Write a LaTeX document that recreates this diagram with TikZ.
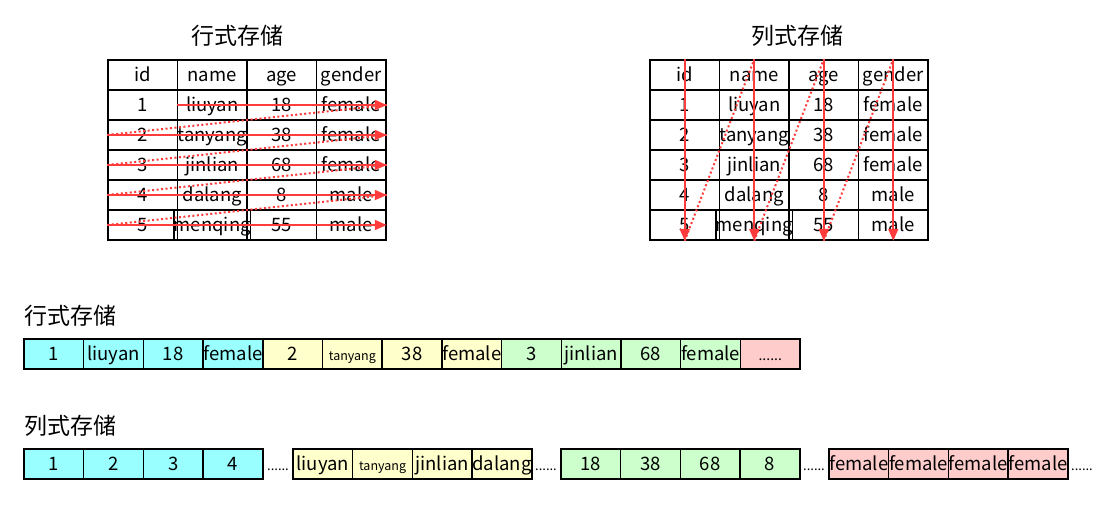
\documentclass[tikz,border=0pt]{standalone}
\usepackage{fontspec}
\setmainfont{Noto Sans CJK SC}
\usetikzlibrary{arrows.meta}
\definecolor{ccyan}{HTML}{99FFFF}
\definecolor{cyel}{HTML}{FFFFCC}
\definecolor{cgreen}{HTML}{CCFFCC}
\definecolor{cpink}{HTML}{FFCCCC}
\definecolor{arr}{HTML}{FF3B3B}
\begin{document}
\begin{tikzpicture}[x=1pt,y=-1pt,
  tcell/.style={draw,line width=1.5pt,minimum width=69.5pt,minimum height=30pt,inner sep=0pt,text height=16pt,text depth=3pt,font=\fontsize{18.5}{18.5}\selectfont},
  scell/.style={draw,line width=1.5pt,minimum width=59.7pt,minimum height=30pt,inner sep=0pt,text height=16pt,text depth=3pt,font=\fontsize{18.5}{18.5}\selectfont},
  title/.style={font=\fontsize{23}{23}\selectfont,inner sep=0pt},
  dots/.style={font=\fontsize{13}{13}\selectfont,inner sep=0pt},
  rarrow/.style={draw=arr,line width=2pt,-{Triangle[length=12pt,width=10pt]}},
  rdot/.style={draw=arr,line width=2pt,dash pattern=on 2pt off 2.5pt},
]
\useasboundingbox (0,0) rectangle (1117,515);

% titles
\node[title] (t1) at (237,36) {行式存储};
\node[title] (t2) at (797,36) {列式存储};

% tables
\foreach \a/\b/\c/\d [count=\r from 0] in {id/name/age/gender,1/liuyan/18/female,2/tanyang/38/female,3/jinlian/68/female,4/dalang/8/male,5/menqing/55/male}{
  \node[tcell] (L-\r-1) at ({108+34.75},{75+30*\r}) {\a};
  \node[tcell] (L-\r-2) at ({108+69.5+34.75},{75+30*\r}) {\b};
  \node[tcell] (L-\r-3) at ({108+139+34.75},{75+30*\r}) {\c};
  \node[tcell] (L-\r-4) at ({108+208.5+34.75},{75+30*\r}) {\d};
  \node[tcell] (R-\r-1) at ({650+34.75},{75+30*\r}) {\a};
  \node[tcell] (R-\r-2) at ({650+69.5+34.75},{75+30*\r}) {\b};
  \node[tcell] (R-\r-3) at ({650+139+34.75},{75+30*\r}) {\c};
  \node[tcell] (R-\r-4) at ({650+208.5+34.75},{75+30*\r}) {\d};
}

% row-wise arrows
\draw[rarrow] (L-1-2.west) -- (L-1-4.east);
\foreach \r in {2,...,5}{
  \draw[rarrow] (L-\r-1.west) -- (L-\r-4.east);
}
\foreach \r [evaluate=\r as \n using int(\r+1)] in {1,...,4}{
  \draw[rdot] (L-\r-4.east) -- (L-\n-1.west);
}

% column-wise arrows
\foreach \c in {1,...,4}{
  \draw[rarrow] (R-0-\c.north) -- (R-5-\c.south);
}
\foreach \c [evaluate=\c as \n using int(\c+1)] in {1,...,3}{
  \draw[rdot] (R-5-\c.south) -- (R-0-\n.north);
}

% row storage
\node[title,anchor=west] (l1) at (24,316) {行式存储};
\foreach \t/\col [count=\i from 0] in {1/ccyan,liuyan/ccyan,18/ccyan,female/ccyan,2/cyel,{\fontsize{12.5}{12.5}\selectfont tanyang}/cyel,38/cyel,female/cyel,3/cgreen,jinlian/cgreen,68/cgreen,female/cgreen,{\fontsize{14}{14}\selectfont ......}/cpink}{
  \node[scell,fill=\col] (S-\i) at ({24+29.85+59.7*\i},354) {\t};
}

% column storage
\node[title,anchor=west] (l2) at (24,426) {列式存储};
\foreach \t [count=\i from 0] in {1,2,3,4}{
  \node[scell,fill=ccyan] (A-\i) at ({24+29.85+59.7*\i},464) {\t};
}
\foreach \t [count=\i from 0] in {liuyan,{\fontsize{12.5}{12.5}\selectfont tanyang},jinlian,dalang}{
  \node[scell,fill=cyel] (B-\i) at ({293+29.85+59.7*\i},464) {\t};
}
\foreach \t [count=\i from 0] in {18,38,68,8}{
  \node[scell,fill=cgreen] (C-\i) at ({561+29.85+59.7*\i},464) {\t};
}
\foreach \t [count=\i from 0] in {female,female,female,female}{
  \node[scell,fill=cpink] (D-\i) at ({829+29.85+59.7*\i},464) {\t};
}
\node[dots,anchor=base] (d1) at (278,470) {......};
\node[dots,anchor=base] (d2) at (546,470) {......};
\node[dots,anchor=base] (d3) at (814,470) {......};
\node[dots,anchor=base] (d4) at (1082,470) {......};
\end{tikzpicture}
\end{document}
